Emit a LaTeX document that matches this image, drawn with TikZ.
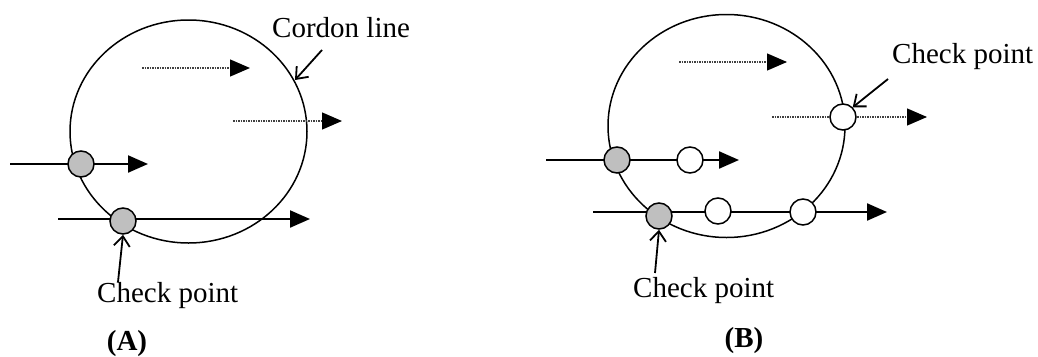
\documentclass[tikz,border=0pt]{standalone}
\usepackage{fontspec}
\setmainfont{Liberation Serif}
\usetikzlibrary{arrows.meta,shapes.geometric}
\begin{document}
\begin{tikzpicture}[x=1pt,y=-1pt,
  cordon/.style={draw,ellipse,line width=1.5pt,inner sep=0pt,minimum width=237pt,minimum height=223pt},
  cpgray/.style={draw,circle,fill=black!25,line width=1.5pt,inner sep=0pt,minimum size=26pt},
  cpwhite/.style={draw,circle,fill=white,line width=1.5pt,inner sep=0pt,minimum size=26pt},
  flow/.style={line width=2.2pt,-{Triangle[length=20pt,width=17pt]}},
  dflow/.style={line width=1.3pt,dash pattern=on 1.5pt off 1pt,black!75,-{Triangle[length=20pt,width=17pt,black]}},
  pointer/.style={line width=1.8pt,-{Straight Barb[length=10pt,width=16pt]}},
  lbl/.style={inner sep=0pt,font=\fontsize{29}{31}\selectfont},
  captionlbl/.style={inner sep=0pt,font=\fontsize{29}{31}\selectfont\bfseries}
]
\useasboundingbox (0,0) rectangle (1038,356);

% ---------------- Panel A ----------------
\node[cordon] (cA) at (188.5,131.5) {};
\coordinate (a1s) at (142,68);  \coordinate (a1e) at (250,68);
\coordinate (a2s) at (233,121); \coordinate (a2e) at (342,121);
\draw[dflow] (a1s) -- (a1e);
\draw[dflow] (a2s) -- (a2e);
\coordinate (a3s) at (10,164);  \coordinate (a3e) at (148,164);
\coordinate (a4s) at (58,219);  \coordinate (a4e) at (310,219);
\draw[flow] (a3s) -- (a3e);
\draw[flow] (a4s) -- (a4e);
\node[cpgray] (gA1) at (81,164) {};
\node[cpgray] (gA2) at (123,221) {};

\node[lbl,anchor=base west] (cordon) at (272,37) {Cordon line};
\coordinate (cordtail) at (322,50);
\coordinate (cordtip) at (295,80);
\draw[pointer] (cordtail) -- (cordtip);

\node[lbl,anchor=base west] (chkA) at (97,302) {Check point};
\coordinate (chkAtail) at (118,282);
\draw[pointer] (chkAtail) -- (gA2.south);

\node[captionlbl,anchor=base] (capA) at (127,350) {(A)};

% ---------------- Panel B ----------------
\node[cordon] (cB) at (726.5,126) {};
\coordinate (b1s) at (679,62);  \coordinate (b1e) at (787,62);
\coordinate (b2s) at (772,117); \coordinate (b2e) at (927,117);
\draw[dflow] (b1s) -- (b1e);
\draw[dflow] (b2s) -- (b2e);
\coordinate (b3s) at (546,160); \coordinate (b3e) at (739,160);
\coordinate (b4s) at (593,212); \coordinate (b4e) at (887,212);
\draw[flow] (b3s) -- (b3e);
\draw[flow] (b4s) -- (b4e);
\node[cpgray] (gB1) at (617,160) {};
\node[cpwhite] (wB1) at (690,160) {};
\node[cpgray] (gB2) at (659,216) {};
\node[cpwhite] (wB2) at (718,211) {};
\node[cpwhite] (wB3) at (803,212) {};
\node[cpwhite] (wB4) at (843,117) {};

\node[lbl,anchor=base west] (chkB1) at (892,63) {Check point};
\coordinate (chkB1tail) at (888,79);
\draw[pointer] (chkB1tail) -- (wB4.north east);

\node[lbl,anchor=base west] (chkB2) at (633,297) {Check point};
\coordinate (chkB2tail) at (655,273);
\draw[pointer] (chkB2tail) -- (gB2.south);

\node[captionlbl,anchor=base] (capB) at (744,347) {(B)};
\end{tikzpicture}
\end{document}
